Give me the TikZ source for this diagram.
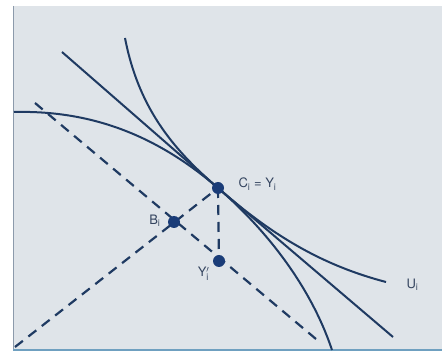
\documentclass[tikz,border=0pt]{standalone}
\usepackage{fontspec}
\setmainfont{TeX Gyre Heros}
\definecolor{bg}{HTML}{DFE4E9}
\definecolor{ink}{HTML}{1F3A62}
\definecolor{dot}{HTML}{1A3C78}
\definecolor{txt}{HTML}{34445F}
\definecolor{frame}{HTML}{8C9AAB}
\definecolor{bframe}{HTML}{6FA0C0}
\begin{document}
\begin{tikzpicture}[x=1pt,y=-1pt,
  curve/.style={draw=ink,line width=2pt},
  dsh/.style={draw=ink,line width=2.2pt,dash pattern=on 10pt off 7pt},
  pt/.style={circle,fill=dot,inner sep=0pt,minimum size=12pt},
  lab/.style={text=txt,font=\fontsize{13}{14}\selectfont}]
\useasboundingbox (0,0) rectangle (442,355);
\fill[white] (0,0) rectangle (442,355);
\fill[bg] (13,6) rectangle (442,350);
\draw[frame,line width=1.5pt] (13.5,6) -- (13.5,350);
\draw[bframe,line width=2pt] (13,350) -- (442,350);
% points
\coordinate (C) at (218,188);
\coordinate (B) at (174,222);
\coordinate (Y) at (219,261);
\coordinate (dl) at (15,347);
\coordinate (dt) at (35,103);
\coordinate (de) at (316,339);
% dashed lines
\draw[dsh] (dl) -- (C);
\draw[dsh] (dt) -- (de);
\draw[dsh] (C) -- (Y);
% PPF (concave)
\coordinate (p0) at (14,112);
\coordinate (p2) at (332,350);
\draw[curve] (p0) .. controls (95,110) and (160,138) .. (C)
  .. controls (270,233) and (312,290) .. (p2);
% indifference curve (convex)
\coordinate (u0) at (125,38);
\coordinate (u2) at (386,282);
\draw[curve] (u0) .. controls (138,105) and (170,147) .. (C)
  .. controls (275,238) and (325,266) .. (u2);
% tangent line
\coordinate (l0) at (62,52);
\coordinate (l2) at (393,337);
\draw[curve] (l0) -- (C) -- (l2);
% dots
\node[pt] (nC) at (C) {};
\node[pt] (nB) at (B) {};
\node[pt] (nY) at (Y) {};
% labels
\node[lab,anchor=west] (lC) at (235,184) {C\textsubscript{i} = Y\textsubscript{i}};
\node[lab,anchor=east] (lB) at (164,221) {B\textsubscript{i}};
\node[lab,anchor=east] (lY) at (213,274) {Y$^{\prime}_{\mathrm{i}}$};
\node[lab,anchor=west] (lU) at (403,285) {U\textsubscript{i}};
\end{tikzpicture}
\end{document}
